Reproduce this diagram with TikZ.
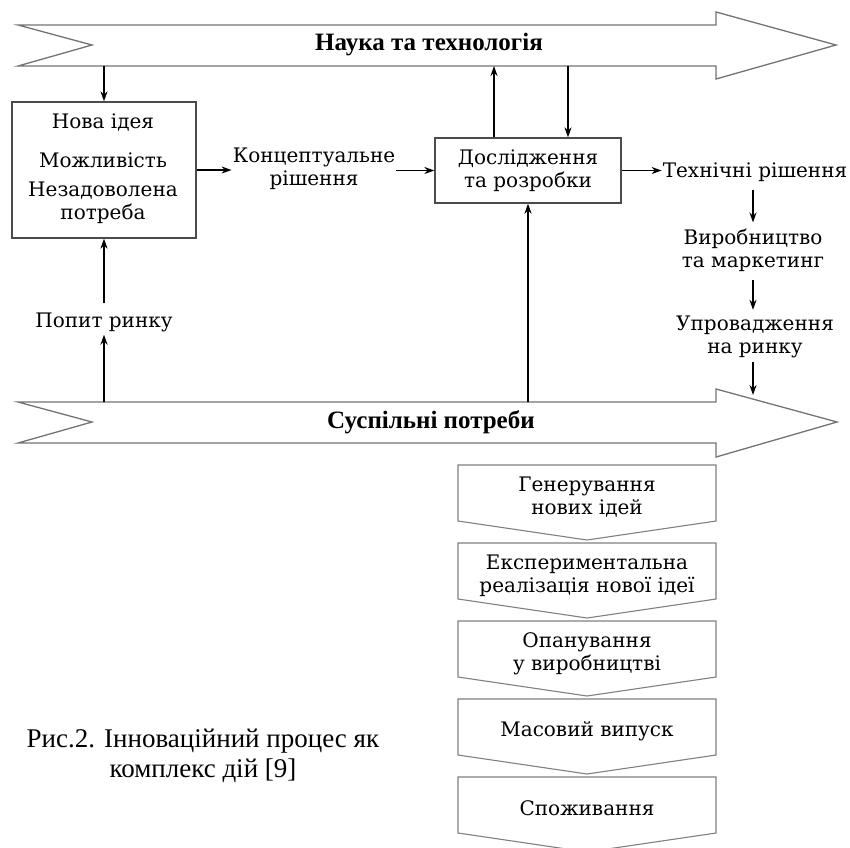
\documentclass[tikz,border=0pt]{standalone}
\usepackage{fontspec}
\setmainfont{Liberation Serif}
\newfontfamily\schemefont{DejaVu Serif}
\usetikzlibrary{arrows.meta}
\tikzset{
  lbl/.style={font=\schemefont\fontsize{20}{23}\selectfont,align=center,inner sep=1pt},
  bandtext/.style={font=\bfseries\fontsize{25}{28}\selectfont},
  band/.style={draw=black!55,line width=1.3pt},
  stage/.style={draw=black!50,line width=1.1pt},
  frame/.style={draw=black!70,line width=1.3pt},
  flow/.style={-{Stealth[length=10pt,width=7pt]},line width=1.6pt},
  vflow/.style={flow,shorten <=7pt,shorten >=5pt}
}
\begin{document}
\begin{tikzpicture}[x=1pt,y=-1pt]
\useasboundingbox (0,0) rectangle (850,847);

\draw[band] (18,25) -- (716,25) -- (716,12) -- (836,45) -- (716,79) -- (716,66) -- (18,66) -- (92,45) -- cycle;
\draw[band] (18,402) -- (716,402) -- (716,389) -- (837,422) -- (716,457) -- (716,443) -- (18,443) -- (92,422) -- cycle;
\node[bandtext] (science) at (429,45) {Наука та технологія};
\node[bandtext] (society) at (431,422) {Суспільні потреби};

\node[frame,minimum width=184,minimum height=136] (idea) at (104,170) {};
\node[lbl] (newidea) at (103,123) {Нова ідея};
\node[lbl] (chance) at (103,160) {Можливість};
\node[lbl] (need) at (103,203) {Незадоволена\\потреба};

\node[frame,lbl,minimum width=186,minimum height=65] (rd) at (528,170.5) {Дослідження\\та розробки};
\node[lbl] (concept) at (314,169) {Концептуальне\\рішення};
\node[lbl] (tech) at (755,172) {Технічні рішення};
\node[lbl] (prod) at (753,250) {Виробництво\\та маркетинг};
\node[lbl] (impl) at (755,337) {Упровадження\\на ринку};
\node[lbl] (demand) at (104,322) {Попит ринку};

\coordinate (s1) at (104,66);
\coordinate (s2) at (494,66);
\coordinate (s3) at (568,66);
\coordinate (p1) at (104,402);
\coordinate (p2) at (528,402);
\coordinate (inflow) at (753,395);

\draw[flow] (s1) -- (idea.north);
\draw[flow] (s2 |- rd.north) -- (s2);
\draw[flow] (s3) -- (s3 |- rd.north);
\draw[flow] (idea.east) -- (idea.east -| concept.west);
\draw[flow] (concept.east |- rd.west) -- (rd.west);
\draw[flow] (rd.east) -- (rd.east -| tech.west);
\draw[vflow] (tech.south -| inflow) -- (prod.north -| inflow);
\draw[vflow] (prod.south -| inflow) -- (impl.north -| inflow);
\draw[flow,shorten <=3pt] (impl.south -| inflow) -- (inflow);
\draw[flow,shorten >=2pt] (p1) -- (demand.south);
\draw[flow,shorten <=8pt] (demand.north) -- (idea.south);
\draw[flow] (p2) -- (p2 |- rd.south);

\draw[stage] (458,465) -- (716,465) -- (716,521) -- (587,540) -- (458,521) -- cycle;
\draw[stage] (458,543) -- (716,543) -- (716,599) -- (587,618) -- (458,599) -- cycle;
\draw[stage] (458,621) -- (716,621) -- (716,677) -- (587,696) -- (458,677) -- cycle;
\draw[stage] (458,699) -- (716,699) -- (716,755) -- (587,774) -- (458,755) -- cycle;
\draw[stage] (458,777) -- (716,777) -- (716,833) -- (587,852) -- (458,833) -- cycle;
\node[lbl] (gen) at (587,497) {Генерування\\нових ідей};
\node[lbl] (exper) at (587,576) {Експериментальна\\реалізація нової ідеї};
\node[lbl] (master) at (587,654) {Опанування\\у виробництві};
\node[lbl] (mass) at (587,731) {Масовий випуск};
\node[lbl] (consume) at (587,808) {Споживання};

\node[font=\fontsize{27}{30}\selectfont,align=center] (caption) at (203,756) {Рис.2. Інноваційний процес як\\комплекс дій [9]};
\end{tikzpicture}
\end{document}
